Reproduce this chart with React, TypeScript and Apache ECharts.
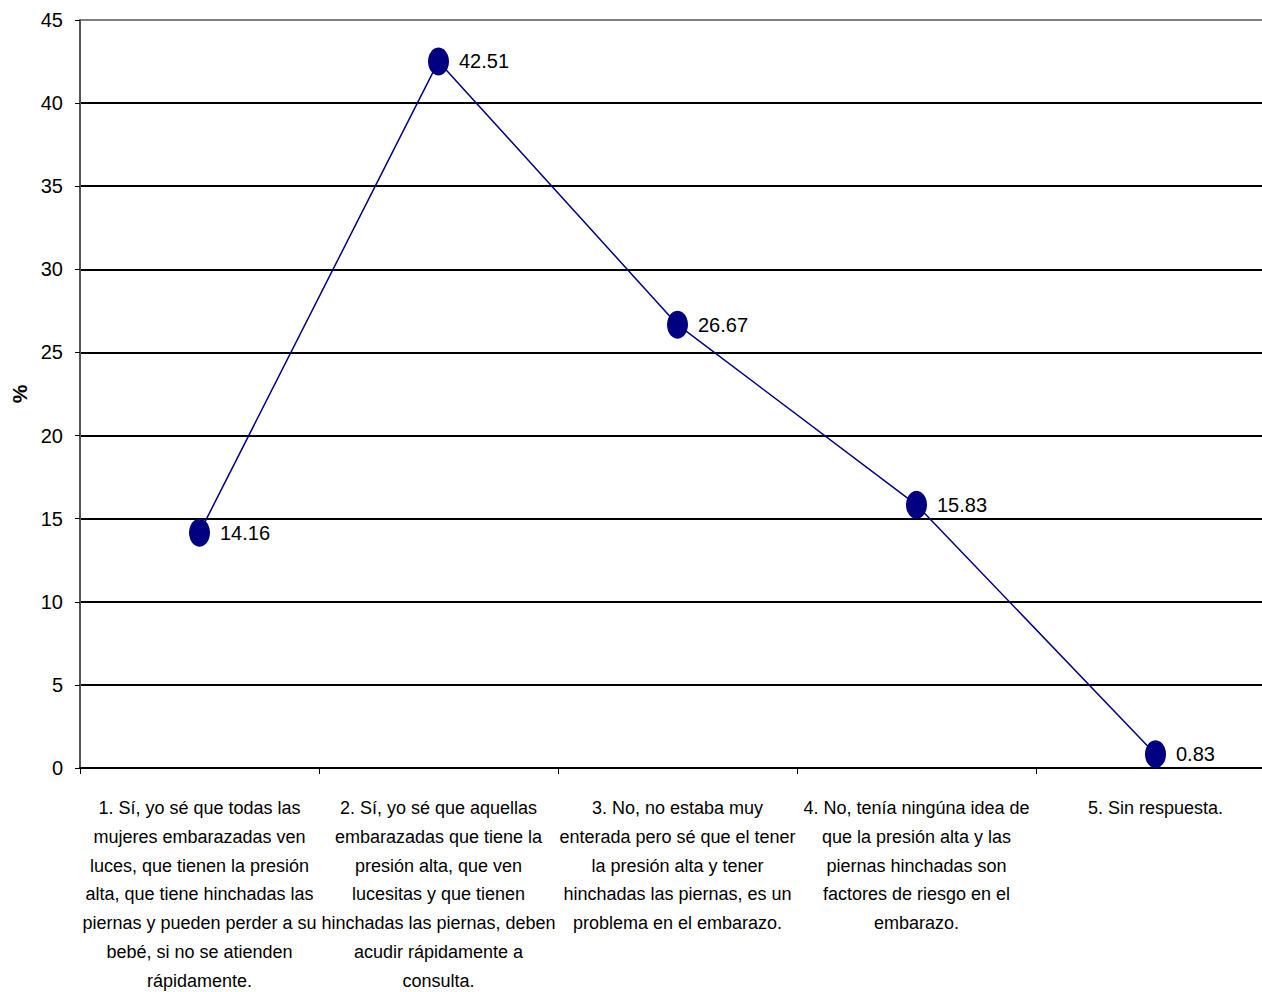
import React, { useEffect, useRef } from "react";
import * as echarts from "echarts";

const categories: string[] = [
  "1. Sí, yo sé que todas las\nmujeres embarazadas ven\nluces, que tienen la presión\nalta, que tiene hinchadas las\npiernas y pueden perder a su\nbebé, si no se atienden\nrápidamente.",
  "2. Sí, yo sé que aquellas\nembarazadas que tiene la\npresión alta, que ven\nlucesitas y que tienen\nhinchadas las piernas, deben\nacudir rápidamente a\nconsulta.",
  "3. No, no estaba muy\nenterada pero sé que el tener\nla presión alta y tener\nhinchadas las piernas, es un\nproblema en el embarazo.",
  "4. No, tenía ningúna idea de\nque la presión alta y las\npiernas hinchadas son\nfactores de riesgo en el\nembarazo.",
  "5. Sin respuesta.",
];
const values: number[] = [14.16, 42.51, 26.67, 15.83, 0.83];
const yTicks = { min: 0, max: 45, interval: 5 };
const yName = "%";

const FONT = "'Liberation Sans Narrow', 'Arial Narrow', 'Liberation Sans', sans-serif";

export default function App() {
  const ref = useRef<HTMLDivElement>(null);
  useEffect(() => {
    if (!ref.current) return;
    const chart = echarts.init(ref.current, undefined, { renderer: "svg" });
    const gridColors = ["#000", "#000", "#000", "#000", "#000", "#000", "#000", "#000", "#000", "#808080"];
    chart.setOption({
      animation: false,
      backgroundColor: "#fff",
      textStyle: { fontFamily: FONT },
      grid: { left: 80, right: -13, top: 20, bottom: 224, containLabel: false, outerBoundsMode: "none" },
      xAxis: {
        type: "category",
        data: categories,
        boundaryGap: true,
        axisLine: { show: true, lineStyle: { color: "#000", width: 2 } },
        axisTick: { show: true, length: 6, lineStyle: { color: "#000", width: 1 } },
        axisLabel: {
          interval: 0,
          margin: 26,
          color: "#000",
          fontFamily: FONT,
          fontSize: 18,
          lineHeight: 28.7,
          align: "center",
        },
        splitLine: { show: false },
      },
      yAxis: {
        type: "value",
        min: yTicks.min,
        max: yTicks.max,
        interval: yTicks.interval,
        name: yName,
        nameLocation: "middle",
        nameGap: 50,
        nameRotate: 90,
        nameTextStyle: { color: "#000", fontFamily: "'Liberation Sans', sans-serif", fontSize: 21, fontWeight: "bold" },
        axisLine: { show: true, lineStyle: { color: "#555", width: 2 } },
        axisTick: { show: true, length: 5, lineStyle: { color: "#000", width: 1 } },
        axisLabel: { color: "#000", fontFamily: FONT, fontSize: 20, margin: 17 },
        splitLine: { show: true, lineStyle: { color: gridColors, width: 2 } },
      },
      series: [
        {
          type: "line",
          data: values,
          symbol: "circle",
          symbolSize: [21, 28],
          itemStyle: { color: "#000080" },
          lineStyle: { color: "#000080", width: 1.5 },
          label: {
            show: true,
            position: "right",
            distance: 10,
            color: "#000",
            fontFamily: FONT,
            fontSize: 20,
            formatter: (p: any) => p.value.toFixed(2),
          },
        },
      ],
    });
    return () => chart.dispose();
  }, []);
  return (
    <div
      ref={ref}
      style={{ position: "absolute", left: 0, top: 0, width: 1262, height: 992 }}
    />
  );
}
